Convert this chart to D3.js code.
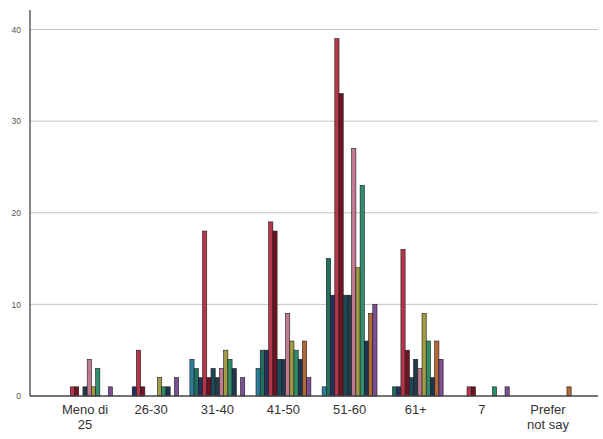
<!DOCTYPE html>
<html><head><meta charset="utf-8">
<script src="https://cdn.jsdelivr.net/npm/d3@7"></script>
<style>body{margin:0;background:#fff}svg{display:block}</style>
</head><body><svg id="c" width="603" height="439"></svg>
<script>
const categories = ["Meno di 25","26-30","31-40","41-50","51-60","61+","7","Prefer not say"];
const seriesNames = ["S1","S2","S3","S4","S5","S6","S7","S8","S9","S10","S11","S12","S13"];
const seriesColors = ["#2b7f9e","#1f6f5c","#24305e","#b5364a","#6e1423","#1c4a5a","#223a4a","#c07a92","#a39a45","#2f8f6b","#1d3550","#b46a35","#7d4f96"];
const s1  = [0,0,4,3,1,0,0,0];
const s2  = [0,0,3,5,15,1,0,0];
const s3  = [0,1,2,5,11,1,0,0];
const s4  = [1,5,18,19,39,16,1,0];
const s5  = [1,1,2,18,33,5,1,0];
const s6  = [0,0,3,4,11,2,0,0];
const s7  = [1,0,2,4,11,4,0,0];
const s8  = [4,0,3,9,27,3,0,0];
const s9  = [1,2,5,6,14,9,0,0];
const s10 = [3,1,4,5,23,6,1,0];
const s11 = [0,1,3,4,6,2,0,0];
const s12 = [0,0,0,6,9,6,0,1];
const s13 = [1,2,2,2,10,4,1,0];
const seriesValues = [s1,s2,s3,s4,s5,s6,s7,s8,s9,s10,s11,s12,s13];
const yTicks = [0,10,20,30,40];

(function(){
const svg = d3.select("#c");
const mLeft = 30, mRight = 598, mBottom = 396, mTop = 10;
const x0 = d3.scaleBand().domain(categories).range([52, 581]).paddingInner(0.17).paddingOuter(0.085);
const x1 = d3.scaleBand().domain(seriesNames).range([0, x0.bandwidth()]);
const y = d3.scaleLinear().domain([0, 40]).range([mBottom, 29.5]);

svg.append("g").selectAll("line").data(yTicks.filter(d => d > 0)).join("line")
  .attr("x1", mLeft).attr("x2", mRight).attr("y1", d => y(d)).attr("y2", d => y(d))
  .attr("stroke", "#c4c4c4").attr("stroke-width", 1);

const data = [];
categories.forEach((c, i) => seriesNames.forEach((s, j) => {
  if (seriesValues[j][i] > 0) data.push({c, s, v: seriesValues[j][i], col: seriesColors[j]});
}));
svg.append("g").selectAll("rect").data(data).join("rect")
  .attr("x", d => x0(d.c) + x1(d.s))
  .attr("width", x1.bandwidth())
  .attr("y", d => y(d.v))
  .attr("height", d => y(0) - y(d.v))
  .attr("fill", d => d.col)
  .attr("stroke", "#1a1a1a").attr("stroke-width", 0.6);

const yAxis = d3.axisLeft(y).tickValues(yTicks).tickSize(0).tickPadding(9);
const gy = svg.append("g").attr("transform", `translate(${mLeft},0)`).call(yAxis);
gy.select(".domain").remove();
gy.selectAll("text").attr("font-family", "Arial, 'Liberation Sans', sans-serif").attr("font-size", 8.5).attr("fill", "#555");
svg.append("line").attr("x1", mLeft).attr("x2", mLeft).attr("y1", mTop).attr("y2", mBottom)
  .attr("stroke", "#444").attr("stroke-width", 1.3);

svg.append("line").attr("x1", mLeft).attr("x2", mRight).attr("y1", mBottom).attr("y2", mBottom)
  .attr("stroke", "#444").attr("stroke-width", 1.3);
const xAxis = d3.axisBottom(x0).tickSize(0).tickPadding(0);
const gx = svg.append("g").attr("transform", `translate(0,${mBottom})`).call(xAxis);
gx.select(".domain").remove();
gx.selectAll("text").each(function(d) {
  const t = d3.select(this);
  let lines = [d];
  if (d === "Meno di 25") lines = ["Meno di", "25"];
  if (d === "Prefer not say") lines = ["Prefer", "not say"];
  t.text(null).attr("y", 0).attr("dy", null);
  lines.forEach((l, k) => t.append("tspan").attr("x", 0).attr("y", 18 + k * 15).text(l));
}).attr("font-family", "Arial, 'Liberation Sans', sans-serif").attr("font-size", 13).attr("fill", "#333");
})();
</script></body></html>
